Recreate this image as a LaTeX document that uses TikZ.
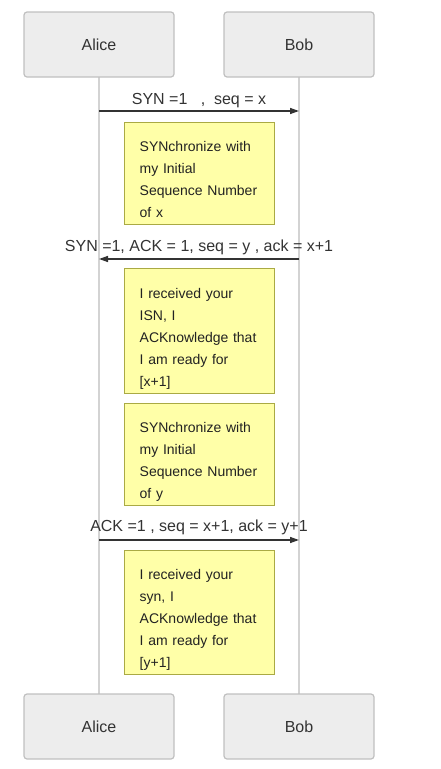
\documentclass[tikz,border=0pt]{standalone}
\usepackage{fontspec}
\setmainfont{Liberation Sans}
\usetikzlibrary{arrows.meta}
\definecolor{actorfill}{HTML}{EDEDED}
\definecolor{actorline}{HTML}{C0C0C0}
\definecolor{lifeline}{HTML}{D3D3D3}
\definecolor{notefill}{HTML}{FFFFA8}
\definecolor{noteline}{HTML}{AAAA44}
\definecolor{ink}{HTML}{333333}
\definecolor{noteink}{HTML}{222222}
\begin{document}
\begin{tikzpicture}[x=1pt,y=-1pt,
  actor/.style={draw=actorline, line width=1.2pt, fill=actorfill, rounded corners=3pt,
    minimum width=150pt, minimum height=65pt, text=ink, font=\fontsize{16}{19}\selectfont},
  notebox/.style={draw=noteline, line width=1pt, fill=notefill, anchor=north,
    minimum width=150pt, inner sep=0pt},
  notetext/.style={anchor=north west, text width=120pt, align=left, inner sep=0pt,
    text=noteink, font=\fontsize{14}{22}\selectfont},
  msg/.style={draw=ink, line width=1.4pt, -{Triangle[length=9pt,width=6pt]}},
  msgtext/.style={text=ink, font=\fontsize{16}{19}\selectfont, inner sep=0pt},
  life/.style={draw=lifeline, line width=1.2pt}]
\useasboundingbox (0,0) rectangle (440,769);

% lifelines
\coordinate (la) at (99,77);
\coordinate (lb) at (299,77);
\coordinate (la2) at (99,694);
\coordinate (lb2) at (299,694);
\draw[life] (la) -- (la2);
\draw[life] (lb) -- (lb2);

% participants
\node[actor] (alice) at (99,44.5) {Alice};
\node[actor] (bob) at (299,44.5) {Bob};
\node[actor] (alice2) at (99,726.5) {Alice};
\node[actor] (bob2) at (299,726.5) {Bob};

% message 1
\coordinate (m1a) at (99,111);
\coordinate (m1b) at (299,111);
\draw[msg] (m1a) -- (m1b);
\node[msgtext] (t1) at (199,101) {SYN =1\ \ \ ,\ \ seq = x};

% note 1
\node[notebox, minimum height=102pt] (n1) at (199,122) {};
\node[notetext] (n1t) at ([shift={(16pt,-19pt)}]n1.north west)
  {SYNchronize with\\ my Initial\\ Sequence Number\\ of x};

% message 2
\coordinate (m2a) at (99,259);
\coordinate (m2b) at (299,259);
\draw[msg] (m2b) -- (m2a);
\node[msgtext] (t2) at (199,247) {SYN =1, ACK = 1, seq = y , ack = x+1};

% note 2
\node[notebox, minimum height=125pt] (n2) at (199,268) {};
\node[notetext] (n2t) at ([shift={(16pt,-20pt)}]n2.north west)
  {I received your\\ ISN, I\\ ACKnowledge that\\ I am ready for\\ {[x+1]}};

% note 3
\node[notebox, minimum height=102pt] (n3) at (199,403) {};
\node[notetext] (n3t) at ([shift={(16pt,-19pt)}]n3.north west)
  {SYNchronize with\\ my Initial\\ Sequence Number\\ of y};

% message 3
\coordinate (m3a) at (99,540);
\coordinate (m3b) at (299,540);
\draw[msg] (m3a) -- (m3b);
\node[msgtext] (t3) at (199,527) {ACK =1 , seq = x+1, ack = y+1};

% note 4
\node[notebox, minimum height=124pt] (n4) at (199,550) {};
\node[notetext] (n4t) at ([shift={(16pt,-19pt)}]n4.north west)
  {I received your\\ syn, I\\ ACKnowledge that\\ I am ready for\\ {[y+1]}};
\end{tikzpicture}
\end{document}
